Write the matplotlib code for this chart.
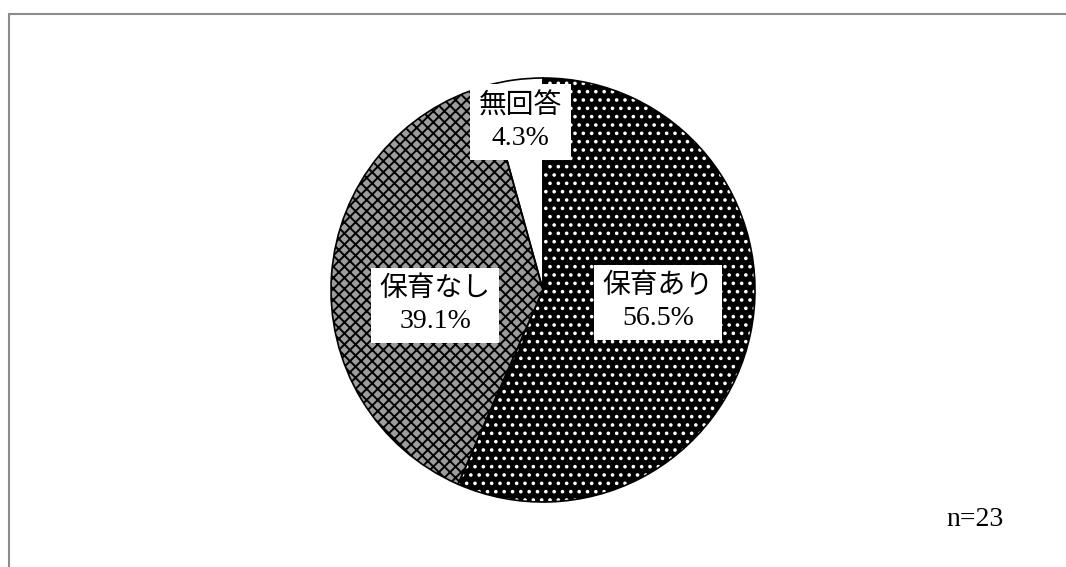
import matplotlib
matplotlib.use("Agg")
import matplotlib.pyplot as plt
from matplotlib.patches import Rectangle

# survey answers, n=23
labels = ["保育あり", "保育なし", "無回答"]
shares = [56.5, 39.1, 4.3]
sample_size = 23

face_colors = ["black", "#9c9c9c", "white"]
hatch_colors = ["white", "black", "white"]
hatches = ["..", "xxx", ""]

plt.rcParams["hatch.linewidth"] = 1.4
label_font = ["Liberation Serif", "Noto Sans CJK JP"]

fig = plt.figure(figsize=(10.66, 5.67), dpi=100)

# thin grey frame that runs off the right and bottom edges
top = 1 - 13.5 / 567
fig.add_artist(Rectangle((8.5 / 1066, -0.2), 1.2, top + 0.2,
                         transform=fig.transFigure, fill=False,
                         edgecolor="#8c8c8c", linewidth=1.5))

ax = fig.add_axes([331 / 1066, 65 / 567, 424 / 1066, 424 / 567])

# pattern layer
wedges, _ = ax.pie(shares, startangle=90, counterclock=False, radius=1,
                   colors=face_colors)
for w, hc, h in zip(wedges, hatch_colors, hatches):
    w.set_hatch(h)
    w.set_edgecolor(hc)
    w.set_linewidth(0)

# outline layer
outline, _ = ax.pie(shares, startangle=90, counterclock=False, radius=1,
                    wedgeprops=dict(facecolor="none", edgecolor="black",
                                    linewidth=1.2))

ax.set_xlim(-1, 1)
ax.set_ylim(-1, 1)
ax.set_aspect("equal")

# label positions in pie units
label_pos = [(0.542, -0.059), (-0.509, -0.071), (-0.108, 0.792)]
for lab, val, (x, y) in zip(labels, shares, label_pos):
    ax.text(x, y, "{}\n{}%".format(lab, val), ha="center", va="center",
            multialignment="center", fontsize=20, family=label_font,
            linespacing=1.35,
            bbox=dict(boxstyle="square,pad=0.32", facecolor="white",
                      edgecolor="none"))

fig.text(975 / 1066, 1 - 520 / 567, "n={}".format(sample_size), ha="center",
         va="center", fontsize=20, family="Liberation Serif")

fig.savefig("out.png", dpi=100)
